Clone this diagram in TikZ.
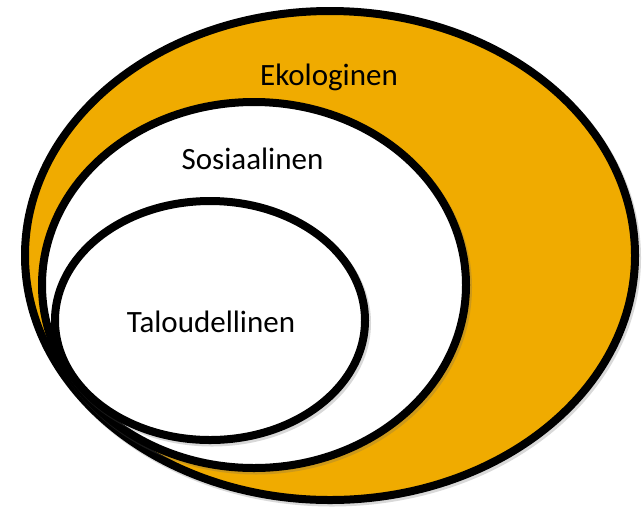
\documentclass[tikz,border=0pt]{standalone}
\usepackage{fontspec}
\setmainfont{Carlito}
\definecolor{eko}{HTML}{F0AB00}
\begin{document}
\begin{tikzpicture}[x=1pt,y=-1pt,
  ring/.style={draw=black,line width=8pt},
  shad/.style={draw=black!60,line width=8pt,opacity=0.25},
  lbl/.style={font=\fontsize{31}{31}\selectfont,text=black,inner sep=0pt,anchor=base}]
\useasboundingbox (0,0) rectangle (644,507);
% shadows
\draw[shad] (332,258) ellipse [x radius=305,y radius=244.5];
\draw[ring,fill=eko] (330,255.5) ellipse [x radius=305,y radius=244.5];
\draw[shad] (256,287.5) ellipse [x radius=212,y radius=183];
\draw[ring,fill=white] (254,285) ellipse [x radius=212,y radius=183];
\draw[shad] (212,323) ellipse [x radius=155,y radius=119.5];
\draw[ring,fill=white] (210,320.5) ellipse [x radius=155,y radius=119.5];
\node[lbl] (eko) at (329,85) {Ekologinen};
\node[lbl] (sos) at (252.5,169) {Sosiaalinen};
\node[lbl] (tal) at (211,332) {Taloudellinen};
\end{tikzpicture}
\end{document}
